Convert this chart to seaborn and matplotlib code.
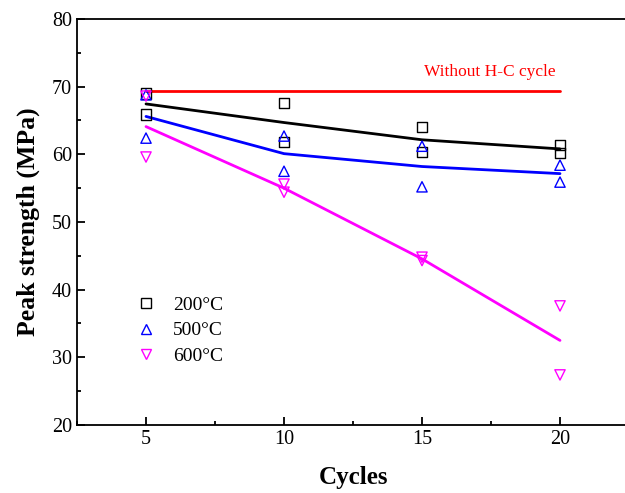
import matplotlib
matplotlib.use("Agg")
import matplotlib.pyplot as plt
import seaborn as sns
import pandas as pd
from matplotlib.ticker import MultipleLocator

# ---- data ----
cycles = [5, 5, 10, 10, 15, 15, 20, 20]
s200 = [69.0, 65.9, 67.6, 61.8, 64.0, 60.3, 61.4, 60.2]
s500 = [68.8, 62.4, 62.7, 57.5, 61.2, 55.2, 58.4, 55.9]
s600 = [68.6, 59.6, 55.6, 54.4, 44.8, 44.3, 37.6, 27.4]
base_cycles = [5, 10, 15, 20]
baseline = [69.4, 69.4, 69.4, 69.4]
labels = ["200°C", "500°C", "600°C"]
colors = ["black", "#0000FF", "#FF00FF"]
markers = ["s", "^", "v"]

sns.set_style("ticks")
plt.rcParams["font.family"] = ["Liberation Serif", "DejaVu Serif"]
for k in ["text.color", "axes.labelcolor", "xtick.color", "ytick.color"]:
    plt.rcParams[k] = "black"

fig = plt.figure(figsize=(6.25, 4.93), dpi=100)
ax = fig.add_axes([77 / 625, (493 - 425) / 493, (629 - 77) / 625, (425 - 19) / 493])

handles = []
for vals, lab, col, mk in zip([s200, s500, s600], labels, colors, markers):
    df = pd.DataFrame({"Cycles": cycles, "v": vals})
    sns.lineplot(data=df, x="Cycles", y="v", estimator="mean", errorbar=None,
                 color=col, lw=2.0, ax=ax, legend=False)
    sns.scatterplot(data=df, x="Cycles", y="v", marker=mk, s=55,
                    facecolors="none", edgecolor=col, linewidth=1.0, ax=ax,
                    legend=False, zorder=3)
    handles.append(plt.Line2D([], [], ls="none", marker=mk, ms=7, mfc="none",
                              mec=col, mew=1.0, label=lab))

sns.lineplot(x=base_cycles, y=baseline, color="#FF0000", lw=2.0, ax=ax, legend=False)
ax.text(17.45, 72.2, "Without H-C cycle", color="#FF0000", fontsize=12.5,
        ha="center", va="center")

ax.set_xlim(2.5, 22.5)
ax.set_ylim(20, 80)
ax.set_xticks([5, 10, 15, 20])
ax.set_yticks([20, 30, 40, 50, 60, 70, 80])
ax.xaxis.set_minor_locator(MultipleLocator(2.5))
ax.yaxis.set_minor_locator(MultipleLocator(5))
ax.tick_params(which="major", direction="in", length=6, width=1.3, labelsize=14.5,
               top=False, right=False)
ax.tick_params(which="minor", direction="in", length=3, width=1.3,
               top=False, right=False)
for sp in ax.spines.values():
    sp.set_linewidth(1.3)
    sp.set_color("black")
ax.set_xlabel("Cycles", fontsize=18, fontweight="bold", labelpad=12)
ax.set_ylabel("Peak strength (MPa)", fontsize=18.5, fontweight="bold", labelpad=9)

ax.legend(handles=handles, loc="upper left", bbox_to_anchor=(0.075, 0.36),
          frameon=False, fontsize=14, handletextpad=0.9, labelspacing=0.4,
          handlelength=1.0)

fig.savefig("out.png", dpi=100)
